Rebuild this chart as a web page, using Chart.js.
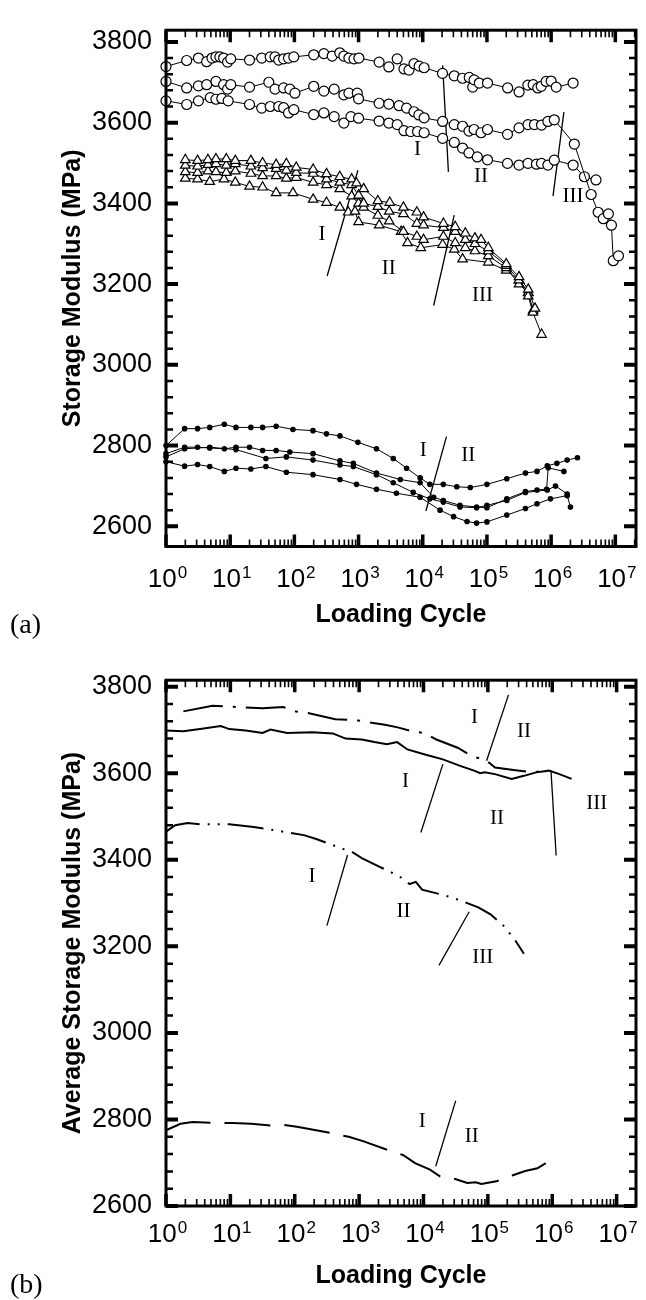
<!DOCTYPE html>
<html lang="en">
<head>
<meta charset="UTF-8" />
<title>Storage modulus vs loading cycle</title>
<script src="https://cdn.jsdelivr.net/npm/chart.js"></script>
<style>
  body { margin: 0; background: #fff; width: 646px; height: 1300px; position: relative; overflow: hidden; }
  .panel { position: absolute; left: 0; width: 646px; height: 650px; }
  .tag { position: absolute; left: 10px; font-family: "Liberation Serif", "Times New Roman", serif; font-size: 28px; line-height: 28px; color: #000; }
</style>
</head>
<body>
<div class="panel" style="top:0"><canvas id="chartA" width="646" height="650"></canvas></div>
<div class="panel" style="top:650px"><canvas id="chartB" width="646" height="650"></canvas></div>
<div class="tag" style="top:610px">(a)</div>
<div class="tag" style="top:1270px">(b)</div>

<script>
// ---- axes ----
const xDecades = [1, 10, 100, 1e3, 1e4, 1e5, 1e6, 1e7];
const xTickBase = '10';
const xTickExp = ['0', '1', '2', '3', '4', '5', '6', '7'];
const yMajor = [2600, 2800, 3000, 3200, 3400, 3600, 3800];

// ---- panel (a): circles ----
const c1X = [1, 2.1, 3.2, 4.3, 5.2, 6, 6.9, 7.9, 9.1, 10.2, 20, 31, 42, 50, 57, 68, 81, 98, 200, 288, 388, 510, 590, 707, 850, 1010, 2090, 2960, 4000, 5100, 6100, 7300, 8800, 10500, 20300, 31000, 41500, 53000, 60000, 63000, 76000, 102000, 210000, 317000, 434000, 525000, 620000, 700000, 835000, 1e6, 1.2e6, 2.2e6];
const c1Y = [3739, 3754, 3760, 3751, 3760, 3763, 3763, 3760, 3750, 3758, 3755, 3760, 3763, 3763, 3755, 3758, 3760, 3763, 3768, 3771, 3765, 3773, 3765, 3760, 3758, 3760, 3750, 3738, 3758, 3733, 3730, 3746, 3740, 3736, 3722, 3716, 3710, 3712, 3688, 3706, 3698, 3698, 3686, 3676, 3693, 3694, 3686, 3690, 3702, 3703, 3688, 3698];

const c2X = [1, 2.1, 3.2, 4.3, 6, 7.9, 9.1, 10.2, 20, 40, 50, 68, 85, 102, 200, 288, 417, 590, 707, 955, 1000, 2090, 2960, 4270, 5600, 7300, 8700, 10500, 20400, 31000, 41700, 52500, 63000, 81000, 102000, 209000, 316000, 436000, 550000, 708000, 890000, 1.12e6, 2.3e6, 4.2e6, 5.4e6, 6.5e6, 7.8e6, 8.7e6, 9.3e6, 1.12e7];
const c2Y = [3702, 3686, 3691, 3694, 3702, 3694, 3683, 3694, 3688, 3700, 3683, 3686, 3683, 3673, 3690, 3678, 3683, 3669, 3673, 3673, 3659, 3648, 3646, 3642, 3636, 3627, 3619, 3612, 3603, 3595, 3591, 3579, 3583, 3575, 3583, 3571, 3587, 3595, 3595, 3594, 3603, 3607, 3547, 3422, 3378, 3362, 3374, 3346, 3258, 3270];

const c3X = [1, 2.1, 3.2, 4.9, 6, 7.4, 9.3, 20, 31, 42, 57, 68, 81, 98, 200, 288, 417, 590, 760, 1000, 2090, 2960, 4000, 5100, 6500, 8300, 10500, 20400, 31000, 41700, 52500, 70800, 102000, 209000, 316000, 436000, 590000, 708000, 890000, 1.12e6, 2.2e6, 3.3e6, 5.0e6];
const c3Y = [3654, 3645, 3654, 3662, 3658, 3660, 3654, 3645, 3636, 3640, 3640, 3637, 3624, 3632, 3620, 3624, 3615, 3599, 3615, 3611, 3604, 3599, 3595, 3580, 3578, 3578, 3575, 3561, 3551, 3537, 3525, 3515, 3508, 3499, 3495, 3499, 3497, 3499, 3495, 3507, 3495, 3466, 3458];

// ---- panel (a): triangles ----
const t1X = [2, 3.1, 4.5, 6, 8.7, 12, 21, 32, 52, 75, 107, 196, 317, 510, 780, 930, 1200, 2000, 3060, 5000, 8100, 10300, 21000, 32000, 46000, 65000, 81000, 105000, 200000, 316000, 440000, 560000];
const t1Y = [3508, 3506, 3508, 3510, 3510, 3506, 3506, 3500, 3496, 3498, 3489, 3484, 3473, 3466, 3460, 3450, 3436, 3406, 3402, 3390, 3378, 3366, 3350, 3342, 3326, 3314, 3310, 3290, 3250, 3218, 3187, 3140];

const t2X = [2, 3.1, 4.5, 6, 8.7, 12, 21, 32, 52, 75, 107, 196, 317, 510, 780, 1000, 1200, 2000, 3000, 5000, 8100, 10300, 21000, 32000, 46000, 65000, 105000, 200000, 316000, 440000, 520000, 710000];
const t2Y = [3494, 3492, 3496, 3498, 3494, 3498, 3492, 3488, 3486, 3482, 3476, 3474, 3460, 3452, 3446, 3420, 3400, 3392, 3380, 3374, 3350, 3346, 3340, 3330, 3310, 3300, 3282, 3246, 3210, 3170, 3130, 3075];

const t3X = [2, 3.1, 4.5, 6, 8.7, 12, 21, 32, 52, 75, 107, 196, 317, 510, 780, 1000, 1200, 2000, 3000, 5000, 8100, 10300, 21000, 32000, 46000, 65000, 105000, 200000, 316000, 440000];
const t3Y = [3478, 3476, 3480, 3478, 3476, 3480, 3474, 3468, 3468, 3462, 3464, 3452, 3446, 3436, 3418, 3400, 3390, 3370, 3356, 3330, 3318, 3310, 3318, 3302, 3290, 3282, 3270, 3240, 3200, 3178];

const t4X = [2, 3.1, 4.8, 8, 12, 20, 32, 52, 95, 196, 317, 510, 690, 880, 1000, 2100, 4600, 5800, 9300, 20400, 31000, 41700, 105000, 200000, 316000, 440000, 525000];
const t4Y = [3462, 3460, 3454, 3460, 3452, 3442, 3440, 3426, 3426, 3410, 3402, 3390, 3378, 3380, 3354, 3346, 3330, 3302, 3290, 3298, 3286, 3262, 3254, 3234, 3210, 3179, 3135];

// ---- panel (a): dots ----
const d1X = [1, 1.95, 3.1, 4.8, 8.1, 12.3, 21, 32, 52, 95, 195, 316, 513, 977, 1900, 3470, 5600, 9100, 12900, 20900, 33900, 55000, 100000, 204000, 398000, 603000, 871000, 1.23e6, 1.78e6, 2.57e6];
const d1Y = [2800, 2842, 2842, 2845, 2853, 2845, 2845, 2845, 2848, 2840, 2837, 2829, 2824, 2808, 2792, 2768, 2744, 2720, 2704, 2704, 2698, 2696, 2704, 2718, 2732, 2736, 2750, 2756, 2764, 2770];

const d2X = [1, 1.95, 3.1, 4.8, 8.1, 12.3, 20, 32, 52, 85, 195, 513, 830, 1900, 4470, 9100, 14800, 20900, 38000, 69000, 100000, 204000, 398000, 603000, 850000, 900000, 1.58e6];
const d2Y = [2780, 2796, 2796, 2794, 2792, 2796, 2796, 2788, 2788, 2784, 2780, 2762, 2756, 2732, 2716, 2708, 2672, 2664, 2652, 2648, 2646, 2668, 2686, 2690, 2692, 2745, 2736];

const d3X = [1, 1.95, 4.8, 12.3, 36, 75, 195, 513, 830, 1900, 3470, 7100, 12900, 20900, 38000, 69000, 100000, 204000, 398000, 871000, 1.17e6, 1.78e6];
const d3Y = [2772, 2792, 2796, 2790, 2768, 2772, 2764, 2752, 2748, 2728, 2708, 2684, 2668, 2660, 2648, 2646, 2652, 2664, 2684, 2690, 2700, 2680];

const d4X = [1, 1.95, 3.1, 4.8, 8.1, 12.3, 21, 36, 75, 195, 513, 930, 1900, 3890, 9100, 18600, 30200, 49000, 69000, 100000, 204000, 398000, 603000, 977000, 1.78e6, 2.0e6];
const d4Y = [2760, 2749, 2753, 2748, 2736, 2744, 2742, 2748, 2734, 2728, 2716, 2704, 2692, 2682, 2672, 2640, 2624, 2612, 2608, 2611, 2628, 2644, 2656, 2668, 2676, 2648];

// ---- panel (a): region markers ----
const aLineX = [[20400, 25100], [1.58e6, 1.07e6], [977, 324], [30900, 14800], [23400, 11200]];
const aLineY = [[3742, 3478], [3626, 3418], [3482, 3220], [3371, 3147], [2822, 2638]];
const aLabelX = [8300, 81000, 2.2e6, 269, 2950, 85000, 10200, 51300];
const aLabelY = [3534, 3467, 3418, 3323, 3239, 3171, 2788, 2776];
const aLabelText = ['I', 'II', 'III', 'I', 'II', 'III', 'I', 'II'];

// ---- panel (b): average curves ----
const b1X = [1.86, 5.3, 12.9, 31.6, 66, 100, 160, 427, 955, 2510, 3980, 6600, 10200, 15800, 33900, 56200, 95500, 129000, 269000, 525000, 759000];
const b1Y = [3743, 3756, 3753, 3750, 3753, 3743, 3739, 3725, 3722, 3712, 3706, 3697, 3693, 3678, 3659, 3640, 3629, 3613, 3607, 3602, 3606];

const b2X = [1, 1.86, 3.38, 7.1, 9.6, 17.3, 31.6, 42, 76, 186, 389, 617, 1100, 1730, 2690, 3900, 5620, 10200, 20000, 39000, 61000, 76000, 89000, 129000, 234000, 363000, 562000, 891000, 1.29e6, 2.0e6];
const b2Y = [3699, 3697, 3702, 3709, 3702, 3699, 3693, 3701, 3693, 3695, 3692, 3680, 3678, 3672, 3667, 3672, 3655, 3644, 3632, 3616, 3606, 3600, 3602, 3598, 3587, 3594, 3602, 3606, 3598, 3587];

const b3X = [1, 1.39, 2.17, 3.38, 9.6, 23, 66, 138, 216, 389, 617, 766, 1100, 2010, 4200, 6100, 7600, 9500, 18600, 28800, 45700, 71000, 110000, 174000, 269000, 363000];
const b3Y = [3465, 3480, 3485, 3482, 3482, 3476, 3465, 3457, 3448, 3434, 3423, 3419, 3404, 3385, 3362, 3344, 3349, 3331, 3320, 3312, 3301, 3290, 3274, 3248, 3213, 3183];

const b4X = [1, 1.68, 2.6, 5.5, 10.8, 21, 44, 64, 108, 302, 690, 1150, 2820, 4790, 7400, 12600, 18200, 30200, 47900, 64600, 79400, 135000, 245000, 380000, 589000, 794000];
const b4Y = [2775, 2790, 2794, 2792, 2792, 2790, 2786, 2788, 2783, 2771, 2760, 2750, 2729, 2718, 2699, 2684, 2668, 2663, 2653, 2655, 2651, 2657, 2671, 2681, 2687, 2699];

// ---- panel (b): region markers ----
const bLineX = [[209000, 95500], [20000, 9100], [955000, 1.15e6], [661, 316], [51300, 17400], [31600, 15500]];
const bLineY = [[3781, 3629], [3621, 3463], [3606, 3410], [3411, 3248], [3280, 3156], [2843, 2692]];
const bLabelX = [61700, 363000, 5250, 138000, 4.9e6, 186, 4900, 83000, 9550, 56200];
const bLabelY = [3728, 3697, 3581, 3495, 3530, 3362, 3280, 3175, 2795, 2761];
const bLabelText = ['I', 'II', 'I', 'II', 'III', 'I', 'II', 'III', 'I', 'II'];

// ---- helpers ----
Chart.defaults.font.family = '"Liberation Sans", Arial, sans-serif';
Chart.defaults.color = '#000';

function pts(xs, ys) {
    return xs.map((x, i) => ({ x: x, y: ys[i] }));
}

function markerSeries(xs, ys, style, radius, fill) {
    return {
        data: pts(xs, ys),
        showLine: true,
        borderColor: '#000',
        borderWidth: 1,
        pointStyle: style,
        pointRadius: radius,
        pointBackgroundColor: fill,
        pointBorderColor: '#000',
        pointBorderWidth: 1.2,
        clip: false,
    };
}

function curve(xs, ys, dash) {
    return {
        data: pts(xs, ys),
        showLine: true,
        borderColor: '#000',
        borderWidth: 2,
        borderDash: dash,
        pointRadius: 0,
        clip: false,
    };
}

function markerLines(lx, ly) {
    return lx.map((xs, i) => ({
        data: pts(xs, ly[i]),
        showLine: true,
        borderColor: '#000',
        borderWidth: 1.3,
        pointRadius: 0,
        clip: false,
    }));
}

// minor log ticks 2..9 of each decade, plus the decades themselves
function logTicks(max) {
    const out = [];
    xDecades.forEach(d => {
        for (let k = 1; k <= 9; k++) {
            if (d * k <= max) out.push(d * k);
        }
    });
    return out;
}

function linTicks(min, max) {
    const out = [];
    for (let v = 2600; v <= max; v += 40) {
        if (v >= min) out.push(v);
    }
    return out;
}

// box frame with inward ticks on all four sides
const frameTicks = {
    id: 'frameTicks',
    afterDatasetsDraw(chart) {
        const ctx = chart.ctx;
        const a = chart.chartArea;
        const xs = chart.scales.x;
        const ys = chart.scales.y;
        ctx.save();
        ctx.strokeStyle = '#000';
        xs.ticks.forEach(t => {
            const px = xs.getPixelForValue(t.value);
            if (px < a.left - 0.5 || px > a.right + 0.5) return;
            const major = xDecades.includes(t.value);
            const len = major ? 12 : 7;
            ctx.lineWidth = major ? 3.5 : 1.6;
            ctx.beginPath();
            ctx.moveTo(px, a.bottom);
            ctx.lineTo(px, a.bottom - len);
            ctx.moveTo(px, a.top);
            ctx.lineTo(px, a.top + len);
            ctx.stroke();
        });
        ys.ticks.forEach(t => {
            const py = ys.getPixelForValue(t.value);
            const major = yMajor.includes(t.value);
            const len = major ? 12 : 7;
            ctx.lineWidth = major ? 4 : 2.5;
            ctx.beginPath();
            ctx.moveTo(a.left, py);
            ctx.lineTo(a.left + len, py);
            ctx.moveTo(a.right, py);
            ctx.lineTo(a.right - len, py);
            ctx.stroke();
        });
        ctx.lineWidth = 3;
        ctx.strokeRect(a.left, a.top, a.right - a.left, a.bottom - a.top);
        ctx.restore();
    },
};

// "10" with a raised exponent under each decade tick
function decadeLabels(baselineOffset) {
    return {
        id: 'decadeLabels',
        afterDraw(chart) {
            const ctx = chart.ctx;
            const xs = chart.scales.x;
            const base = chart.chartArea.bottom + baselineOffset;
            ctx.save();
            ctx.fillStyle = '#000';
            ctx.textBaseline = 'alphabetic';
            ctx.textAlign = 'left';
            xDecades.forEach((d, i) => {
                if (d > xs.max) return;
                const px = xs.getPixelForValue(d);
                ctx.font = '26px "Liberation Sans", Arial, sans-serif';
                const wBase = ctx.measureText(xTickBase).width;
                ctx.font = '17px "Liberation Sans", Arial, sans-serif';
                const wExp = ctx.measureText(xTickExp[i]).width;
                const x0 = px - (wBase + wExp) / 2 + 1;
                ctx.font = '26px "Liberation Sans", Arial, sans-serif';
                ctx.fillText(xTickBase, x0, base);
                ctx.font = '17px "Liberation Sans", Arial, sans-serif';
                ctx.fillText(xTickExp[i], x0 + wBase + 1, base - 9);
            });
            ctx.restore();
        },
    };
}

function romanLabels(lx, ly, text) {
    return {
        id: 'roman',
        afterDatasetsDraw(chart) {
            const ctx = chart.ctx;
            ctx.save();
            ctx.font = '21px "Liberation Serif", "Times New Roman", serif';
            ctx.fillStyle = '#000';
            ctx.textAlign = 'center';
            ctx.textBaseline = 'middle';
            text.forEach((t, i) => {
                ctx.fillText(t, chart.scales.x.getPixelForValue(lx[i]), chart.scales.y.getPixelForValue(ly[i]));
            });
            ctx.restore();
        },
    };
}

function makeOptions(cfg) {
    return {
        responsive: false,
        animation: false,
        layout: { padding: { left: 0, right: 10, top: cfg.top, bottom: 0 } },
        plugins: { legend: { display: false }, tooltip: { enabled: false } },
        scales: {
            x: {
                type: 'logarithmic',
                min: 1,
                max: cfg.xMax,
                afterBuildTicks: s => { s.ticks = logTicks(cfg.xMax).map(v => ({ value: v })); },
                afterFit: s => { s.height = cfg.xHeight; },
                grid: { display: false, drawTicks: false },
                border: { display: false },
                ticks: { display: false, autoSkip: false, maxRotation: 0 },
                title: {
                    display: true,
                    text: 'Loading Cycle',
                    font: { size: 25, weight: 'bold' },
                    padding: { top: 0, bottom: cfg.xTitlePad },
                },
            },
            y: {
                min: cfg.yMin,
                max: cfg.yMax,
                afterBuildTicks: s => { s.ticks = linTicks(cfg.yMin, cfg.yMax).map(v => ({ value: v })); },
                afterFit: s => { s.width = 166; },
                grid: { display: false, drawTicks: false },
                border: { display: false },
                ticks: {
                    autoSkip: false,
                    padding: 14,
                    font: { size: 27 },
                    callback: v => (yMajor.includes(v) ? String(v) : ''),
                },
                title: {
                    display: true,
                    text: cfg.yTitle,
                    font: { size: 25, weight: 'bold' },
                    padding: { top: 58, bottom: 0 },
                },
            },
        },
    };
}

// ---- panel (a) ----
new Chart(document.getElementById('chartA'), {
    type: 'scatter',
    data: {
        datasets: [
            markerSeries(c1X, c1Y, 'circle', 5, '#fff'),
            markerSeries(c2X, c2Y, 'circle', 5, '#fff'),
            markerSeries(c3X, c3Y, 'circle', 5, '#fff'),
            markerSeries(t1X, t1Y, 'triangle', 5.5, '#fff'),
            markerSeries(t2X, t2Y, 'triangle', 5.5, '#fff'),
            markerSeries(t3X, t3Y, 'triangle', 5.5, '#fff'),
            markerSeries(t4X, t4Y, 'triangle', 5.5, '#fff'),
            markerSeries(d1X, d1Y, 'circle', 2.2, '#000'),
            markerSeries(d2X, d2Y, 'circle', 2.2, '#000'),
            markerSeries(d3X, d3Y, 'circle', 2.2, '#000'),
            markerSeries(d4X, d4Y, 'circle', 2.2, '#000'),
        ].concat(markerLines(aLineX, aLineY)),
    },
    options: makeOptions({
        top: 12, xMax: 2.1e7, xHeight: 103.5, xTitlePad: 20,
        yMin: 2550, yMax: 3829, yTitle: 'Storage Modulus (MPa)',
    }),
    plugins: [frameTicks, decadeLabels(40), romanLabels(aLabelX, aLabelY, aLabelText)],
});

// ---- panel (b) ----
new Chart(document.getElementById('chartB'), {
    type: 'scatter',
    data: {
        datasets: [
            curve(b1X, b1Y, [40, 10, 3, 10]),
            curve(b2X, b2Y, []),
            curve(b3X, b3Y, [36, 8, 2, 8, 2, 8]),
            curve(b4X, b4Y, [46, 14]),
        ].concat(markerLines(bLineX, bLineY)),
    },
    options: makeOptions({
        top: 27, xMax: 2e7, xHeight: 94, xTitlePad: 9,
        yMin: 2600, yMax: 3815, yTitle: 'Average Storage Modulus (MPa)',
    }),
    plugins: [frameTicks, decadeLabels(36), romanLabels(bLabelX, bLabelY, bLabelText)],
});
</script>
</body>
</html>
